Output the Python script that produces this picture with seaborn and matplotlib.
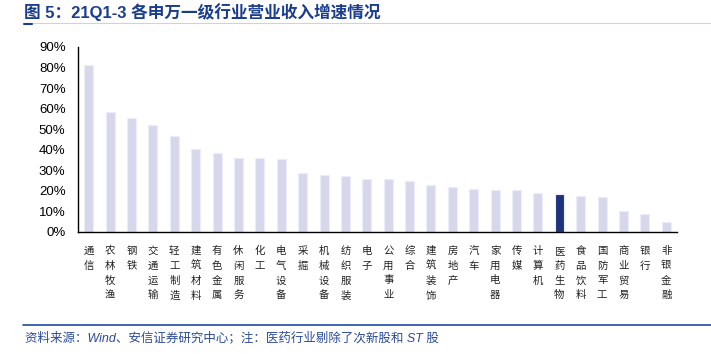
import matplotlib
matplotlib.use("Agg")
import matplotlib.pyplot as plt
import seaborn as sns
from matplotlib.lines import Line2D
from matplotlib.ticker import FixedLocator, PercentFormatter

# 行业名称与营收增速
industries = ["通信", "农林牧渔", "钢铁", "交通运输", "轻工制造", "建筑材料", "有色金属",
              "休闲服务", "化工", "电气设备", "采掘", "机械设备", "纺织服装", "电子",
              "公用事业", "综合", "建筑装饰", "房地产", "汽车", "家用电器", "传媒",
              "计算机", "医药生物", "食品饮料", "国防军工", "商业贸易", "银行", "非银金融"]
growth = [81.3, 58.5, 55.6, 52.0, 46.7, 40.4, 38.4,
          36.1, 36.1, 35.5, 28.5, 27.9, 27.2, 25.6,
          25.6, 25.0, 22.7, 22.0, 20.9, 20.3, 20.3,
          19.1, 18.5, 17.4, 16.9, 10.2, 8.6, 5.0]
highlight = "医药生物"

sns.set_style("white")
plt.rcParams["font.family"] = ["Liberation Sans", "Noto Sans CJK SC", "DejaVu Sans"]

fig = plt.figure(figsize=(7.11, 3.54), dpi=100)
ax = fig.add_axes([78 / 711, 1 - 232 / 354, (677 - 78) / 711, (232 - 47) / 354])

light = "#D3D3F0"
dark = "#0D2A8E"
colors = {k: (dark if k == highlight else light) for k in industries}
sns.barplot(x=industries, y=growth, hue=industries, palette=colors, legend=False,
            width=0.42, edgecolor="#ECECFA", linewidth=0.8, ax=ax)

ax.set_xlim(-0.5, len(industries) - 0.5)
ax.set_ylim(0, 90)
ax.set_yticks(range(0, 91, 10))
ax.yaxis.set_major_formatter(PercentFormatter(decimals=0))
ax.tick_params(axis="y", direction="in", length=4, width=1, colors="black",
               labelsize=9.5, pad=9)

# 竖排标签
ax.set_xticks(range(len(industries)))
ax.set_xticklabels(["\n".join(s) for s in industries], fontfamily="Noto Sans CJK SC",
                   fontsize=7.5, linespacing=1.6, va="top", color="#222222")
ax.tick_params(axis="x", which="major", length=0, pad=10)
ax.xaxis.set_minor_locator(FixedLocator([i - 0.5 for i in range(len(industries) + 1)]))
ax.tick_params(axis="x", which="minor", direction="in", length=3, width=1, colors="black")
ax.set_xlabel("")
ax.set_ylabel("")

for s in ["top", "right"]:
    ax.spines[s].set_visible(False)
for s in ["left", "bottom"]:
    ax.spines[s].set_color("black")
    ax.spines[s].set_linewidth(1)

# 标题与脚注
fig.text(24 / 711, 1 - 12 / 354, "图 5：21Q1-3 各申万一级行业营业收入增速情况",
         fontsize=12, fontweight="bold", color="#1B3D8F", va="center",
         family=["Liberation Sans", "Noto Sans CJK SC"])
fig.add_artist(Line2D([24 / 711, 1], [1 - 22.5 / 354] * 2, color="#C9D3E6", lw=0.8))
fig.add_artist(Line2D([24 / 711, 32 / 711], [1 - 24 / 354] * 2, color="#1B3D8F", lw=1.5))
fig.add_artist(Line2D([23 / 711, 1], [1 - 325 / 354] * 2, color="#1F4AA8", lw=1.2))
fig.text(25 / 711, 1 - 338 / 354,
         "资料来源：Wind、安信证券研究中心；注：医药行业剔除了次新股和 ST 股",
         fontsize=9, style="italic", color="#2A4B9A", va="center",
         family=["Liberation Sans", "Noto Sans CJK SC"])

fig.savefig("out.png", dpi=100)
